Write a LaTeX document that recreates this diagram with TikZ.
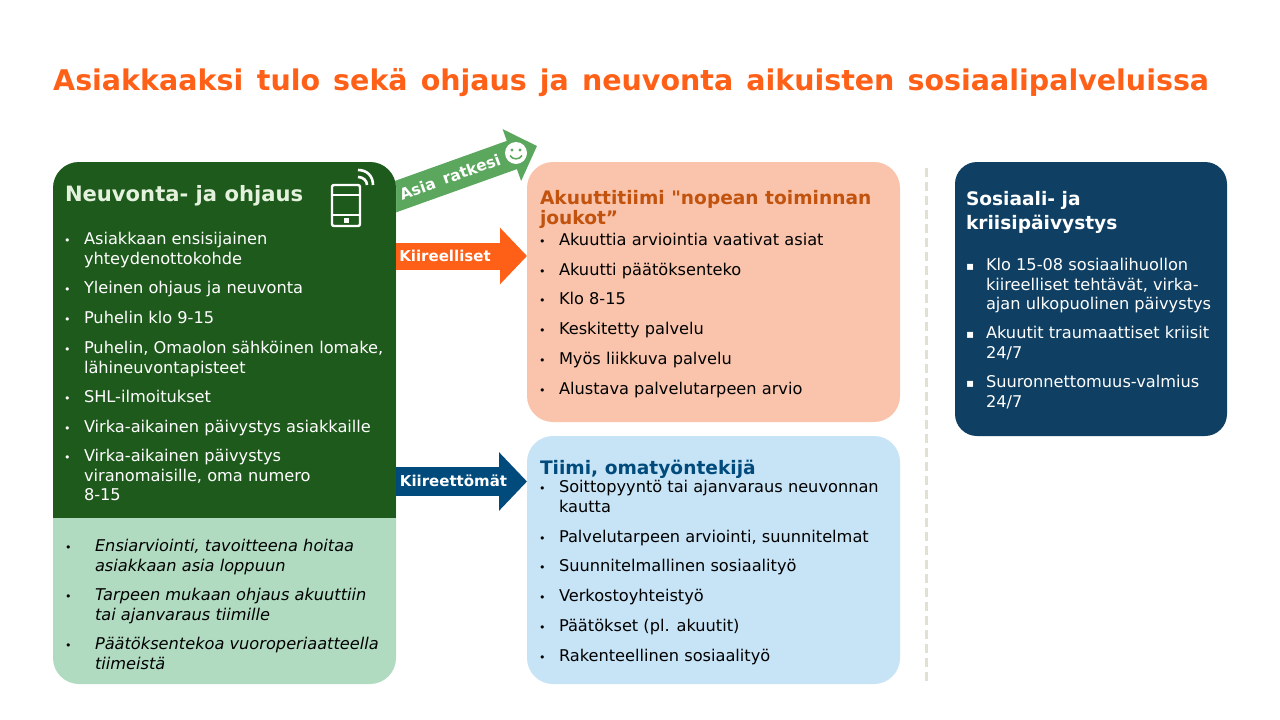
\documentclass[tikz,border=0pt]{standalone}
\usepackage{fontspec}
\setmainfont{DejaVu Sans}
\newfontfamily\qfont{DejaVu Sans}
\usetikzlibrary{arrows.meta}
\definecolor{dkgreen}{HTML}{1F5A1D}
\definecolor{ltgreen}{HTML}{B0DBC1}
\definecolor{midgreen}{HTML}{5BA75E}
\definecolor{peach}{HTML}{F9C4AB}
\definecolor{skyb}{HTML}{C7E3F6}
\definecolor{navy}{HTML}{0F3F62}
\definecolor{flame}{HTML}{FF6018}
\definecolor{rust}{HTML}{C2530F}
\definecolor{deepb}{HTML}{004A7C}
\definecolor{sand}{HTML}{E2DFD3}
\definecolor{mint}{HTML}{E4F1DC}
\tikzset{
  x=1pt,y=-1pt,
  panel/.style={anchor=north west,inner sep=0pt,outer sep=0pt,rounded corners=#1},
  txt/.style={anchor=north west,inner sep=0pt,outer sep=0pt,align=left,font=\fontsize{16.2}{19.6}\selectfont},
  ital/.style={font=\fontsize{16.2}{19.6}\selectfont\itshape},
  hd/.style={anchor=north west,inner sep=0pt,outer sep=0pt,align=left,font=\fontsize{18.6}{20.5}\selectfont\bfseries},
  lab/.style={inner sep=0pt,outer sep=0pt,text=white,font=\fontsize{15}{17}\selectfont\bfseries},
}
\newcommand\bulc{\fontsize{11}{10}\selectfont •}
\newcommand\sqc{\fontsize{12}{10}\selectfont ▪}
% #1 bullet, #2 name, #3 bullet x, #4 text x, #5 baseline y, #6 style, #7 text
\newcommand\itm[7]{%
  \node[txt,#6] (#2b) at (#3,#5-15.4) {\rule{0pt}{16pt}#1};
  \node[txt,#6] (#2) at (#4,#5-15.4) {\rule{0pt}{16pt}#7};
}
\begin{document}
\begin{tikzpicture}
\useasboundingbox (0,0) rectangle (1280,720);
\fill[white] (0,0) rectangle (1280,720);

\node[anchor=base west,inner sep=0pt,text=flame,font=\fontsize{28.5}{32}\selectfont\bfseries] (title) at (53,90) {Asiakkaaksi\hspace{0.13em} tulo\hspace{0.11em} sekä\hspace{0.11em} ohjaus\hspace{0.11em} ja\hspace{0.11em} neuvonta\hspace{0.11em} aikuisten\hspace{0.11em} sosiaalipalveluissa};

% diagonal arrow lies behind the panel
\coordinate (dstart) at (380,202.2);
\coordinate (dtip) at (537,146);
\draw[midgreen,line width=30pt,-{Triangle[length=26.7pt,width=53.5pt]}] (dstart) -- (dtip);

% panels
\node[panel=26pt,fill=ltgreen,minimum width=343pt,minimum height=522pt,
  path picture={\fill[dkgreen,sharp corners] (path picture bounding box.north west) rectangle ([yshift=-95pt]path picture bounding box.east);}] (neuvonta) at (53,162) {};
\node[panel=26pt,fill=peach,minimum width=373pt,minimum height=260pt] (akuutti) at (527,162) {};
\node[panel=26pt,fill=skyb,minimum width=373pt,minimum height=248pt] (tiimi) at (527,436) {};
\node[panel=22pt,fill=navy,minimum width=272pt,minimum height=274pt] (sosiaali) at (955,162) {};

% block arrows
\coordinate (k0) at (neuvonta.east |- 0,256);
\coordinate (k1) at (akuutti.west |- 0,256);
\draw[flame,line width=27pt,-{Triangle[length=27pt,width=55pt]}] (k0) -- (k1);
\coordinate (m0) at (neuvonta.east |- 0,481.5);
\coordinate (m1) at (tiimi.west |- 0,481.5);
\draw[deepb,line width=29pt,-{Triangle[length=28pt,width=57pt]}] (m0) -- (m1);

\node[lab] (lk) at (445,256) {Kiireelliset};
\node[lab] (lm) at (453.5,481) {Kiireettömät};
\node[lab,rotate=20,font=\fontsize{15.5}{17}\selectfont\bfseries] (la) at (450,177) {Asia\hspace{0.2em} ratkesi};

% smiley
\fill[white] (516,153) circle[radius=11];
\fill[midgreen] (512,150) circle[radius=1.7] (520,150) circle[radius=1.7];
\draw[midgreen,line width=1.5pt] (510,155.5) .. controls (512.5,160) and (519.5,160) .. (522,155.5);

% phone icon
\draw[white,line width=2.4pt,rounded corners=2pt] (332,185) rectangle (360,226);
\draw[white,line width=2pt] (332,194.5) -- (360,194.5) (332,214.5) -- (360,214.5);
\fill[white] (343.5,217.5) rectangle (349,222.5);
\draw[white,line width=2.6pt] (358,170) .. controls (367,170) and (373,176) .. (373,185);
\draw[white,line width=2.6pt] (358,177) .. controls (363,177) and (367,180.5) .. (367,185);

% left panel text
\node[hd,text=mint,font=\fontsize{21.1}{24}\selectfont\bfseries] (h1) at (65,201-16) {\rule{0pt}{16pt}Neuvonta- ja ohjaus};
\itm{\bulc}{a1}{64}{84}{244}{text=white}{Asiakkaan ensisijainen\\yhteydenottokohde}
\itm{\bulc}{a2}{64}{84}{293}{text=white}{Yleinen ohjaus ja neuvonta}
\itm{\bulc}{a3}{64}{84}{323}{text=white}{Puhelin klo 9-15}
\itm{\bulc}{a4}{64}{84}{353}{text=white}{Puhelin, Omaolon sähköinen lomake,\\lähineuvontapisteet}
\itm{\bulc}{a5}{64}{84}{402}{text=white}{SHL-ilmoitukset}
\itm{\bulc}{a6}{64}{84}{432}{text=white}{Virka-aikainen päivystys asiakkaille}
\itm{\bulc}{a7}{64}{84}{461}{text=white}{Virka-aikainen päivystys\\viranomaisille, oma numero\\8-15}

\itm{\bulc}{b1}{65}{95}{551}{ital,text=black}{Ensiarviointi, tavoitteena hoitaa\\asiakkaan asia loppuun}
\itm{\bulc}{b2}{65}{95}{600}{ital,text=black}{Tarpeen mukaan ohjaus akuuttiin\\tai ajanvaraus tiimille}
\itm{\bulc}{b3}{65}{95}{649}{ital,text=black}{Päätöksentekoa vuoroperiaatteella\\tiimeistä}

% orange panel text
\node[hd,text=rust] (h2) at (540,204-16) {\rule{0pt}{16pt}Akuuttitiimi {\qfont\bfseries "}nopean toiminnan\\joukot”};
\itm{\bulc}{c1}{539}{559}{245}{text=black}{Akuuttia arviointia vaativat asiat}
\itm{\bulc}{c2}{539}{559}{275}{text=black}{Akuutti päätöksenteko}
\itm{\bulc}{c3}{539}{559}{304}{text=black}{Klo 8-15}
\itm{\bulc}{c4}{539}{559}{334}{text=black}{Keskitetty palvelu}
\itm{\bulc}{c5}{539}{559}{364}{text=black}{Myös liikkuva palvelu}
\itm{\bulc}{c6}{539}{559}{394}{text=black}{Alustava palvelutarpeen arvio}

% blue panel text
\node[hd,text=deepb] (h3) at (540,474-16) {\rule{0pt}{16pt}Tiimi, omatyöntekijä};
\itm{\bulc}{d1}{539}{559}{492}{text=black}{Soittopyyntö tai ajanvaraus neuvonnan\\kautta}
\itm{\bulc}{d2}{539}{559}{542}{text=black}{Palvelutarpeen arviointi, suunnitelmat}
\itm{\bulc}{d3}{539}{559}{571}{text=black}{Suunnitelmallinen sosiaalityö}
\itm{\bulc}{d4}{539}{559}{601}{text=black}{Verkostoyhteistyö}
\itm{\bulc}{d5}{539}{559}{631}{text=black}{Päätökset (pl. akuutit)}
\itm{\bulc}{d6}{539}{559}{661}{text=black}{Rakenteellinen sosiaalityö}

% dashed separator
\draw[sand,line width=3pt,dash pattern=on 9pt off 5pt] (926,168) -- (926,684);

% navy panel text
\node[hd,text=white,font=\fontsize{18.6}{24}\selectfont\bfseries] (h4) at (966,205-16) {\rule{0pt}{16pt}Sosiaali- ja\\kriisipäivystys};
\itm{\sqc}{e1}{966}{986}{270}{text=white}{Klo 15-08 sosiaalihuollon\\kiireelliset tehtävät, virka-\\ajan ulkopuolinen päivystys}
\itm{\sqc}{e2}{966}{986}{338}{text=white}{Akuutit traumaattiset kriisit\\24/7}
\itm{\sqc}{e3}{966}{986}{387}{text=white}{Suuronnettomuus-valmius\\24/7}
\end{tikzpicture}
\end{document}
